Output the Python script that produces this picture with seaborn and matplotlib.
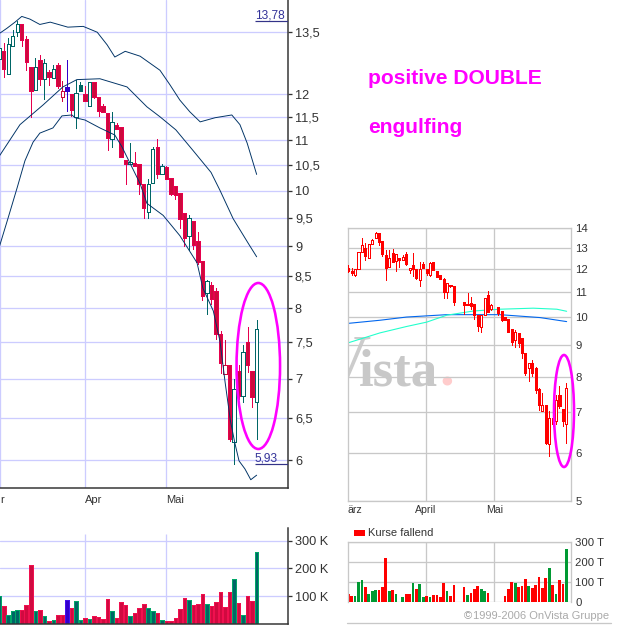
import numpy as np
import matplotlib
matplotlib.use("Agg")
import matplotlib.pyplot as plt
from matplotlib.patches import Ellipse, Rectangle
import seaborn as sns

# ---------- main candlestick chart ----------
days = np.arange(-1, 57)
m_open = [12.82,13.04,12.48,13.16,13.50,13.72,13.33,12.65,12.10,12.80,12.36,12.53,12.38,12.68,11.93,12.17,12.00,11.50,12.07,12.00,11.74,12.29,11.93,11.74,11.59,11.02,11.33,11.28,10.60,10.52,10.54,10.52,10.13,9.61,10.15,10.87,10.31,10.46,10.25,10.08,9.96,9.59,9.18,9.43,9.09,8.75,8.23,8.36,8.27,7.62,7.06,7.18,6.21,7.10,6.77,7.51,7.10,6.70]
m_high = [13.48,13.23,13.35,13.55,13.79,13.72,13.40,12.65,12.85,12.92,12.82,12.56,12.68,12.73,12.31,12.80,12.00,12.34,12.29,12.19,12.29,12.29,11.93,11.78,11.59,11.61,11.37,11.28,10.60,10.95,10.76,10.52,10.13,10.23,10.85,11.02,10.52,10.48,10.25,10.08,9.96,9.59,9.55,9.43,9.25,8.75,8.44,8.41,8.31,7.66,7.53,7.18,7.00,7.18,7.46,7.72,7.10,7.82]
m_low = [12.82,12.41,12.48,13.16,13.40,13.14,12.56,11.50,12.10,12.22,11.89,12.22,12.38,12.15,11.85,11.63,11.52,11.26,12.07,11.85,11.74,11.91,11.52,11.61,10.79,10.85,11.24,10.65,10.13,10.52,10.48,9.94,9.50,9.50,10.15,10.25,10.31,10.23,9.91,9.85,9.32,9.00,8.93,8.95,8.70,8.12,7.91,8.06,7.55,7.08,7.06,6.22,5.95,6.73,6.70,7.09,6.63,6.24]
m_close = [13.10,12.58,13.21,13.40,13.72,13.31,12.75,12.07,12.65,12.36,12.73,12.41,12.58,12.19,12.07,12.07,11.65,12.02,12.22,11.85,12.29,11.93,11.63,11.61,11.04,11.39,11.24,10.65,10.52,10.56,10.48,10.13,9.68,10.12,10.81,10.31,10.48,10.23,9.94,9.91,9.48,9.14,9.50,9.02,8.73,8.19,8.42,8.14,7.62,7.21,7.18,6.24,6.86,6.77,7.36,7.19,6.76,7.69]
m_kind = list("g" "rgggrrrgrgrgr" "rbrgg" "rgrrrrgrrrgrrrggr" "grrrrrgrrrgrrrrrgrgrrg")
solid_days = [14, 17]
band_up_x = [-0.8,0.7,2.5,4,5.8,8,10.3,14.2,17.6,20.7,22.9,24.6,26.9,30.2,34.6,36.8,39,41.2,43.5,46.8,50.5,52.3,53.9,56]
band_up = [13.48,13.60,13.76,13.91,13.84,13.70,13.76,13.63,13.65,13.50,13.18,12.88,13.02,12.90,12.56,12.22,11.87,11.61,11.39,11.48,11.54,11.33,10.94,10.31]
band_mid_x = [-1,3.6,8.7,13.1,16.2,21.3,27.3,31.7,34.6,38.1,41.9,45.9,47.9,50.8,54.2,56]
band_mid = [10.67,11.33,11.76,12.17,12.34,12.36,12.17,11.72,11.50,11.22,10.79,10.35,10.00,9.48,9.04,8.82]
band_low_x = [-1,1,3,4.7,6.5,8,10.9,12.9,15.1,15.8,18,21.3,24.6,26.2,30.2,31.7,35.3,39,42.8,44.1,46.4,47.9,49,50.2,51.2,52.1,53.4,54.7,56]
band_low = [8.98,9.50,10.06,10.58,10.96,11.15,11.26,11.52,11.54,11.48,11.43,11.26,11.11,10.86,10.13,9.76,9.54,9.18,8.72,8.31,7.96,7.51,6.96,6.46,6.19,5.99,5.90,5.78,5.83]
m_volume = [100,65,31,47,50,50,68,212,47,50,29,11,14,32,32,86,57,83,14,22,18,29,25,18,90,47,22,79,68,29,40,57,72,57,47,40,14,11,11,22,54,93,86,68,72,108,72,65,79,115,61,115,162,75,32,100,83,259]
m_yticks = [6,6.5,7,7.5,8,8.5,9,9.5,10,10.5,11,11.5,12,13.5]
m_ylabels = ["6","6,5","7","7,5","8","8,5","9","9,5","10","10,5","11","11,5","12","13,5"]
m_vticks = [100,200,300]
m_vlabels = ["100 K","200 K","300 K"]
m_months = [18,36]
m_month_labels = ["Apr","Mai"]
last_high, last_low = 13.78, 5.95

# ---------- small chart ----------
slots = np.arange(65)
n = np.nan
s_open = [12.05,11.92,11.72,12.00,12.80,13.00,12.50,13.20,13.49,13.73,13.33,12.63,12.08,12.76,12.35,12.52,12.41,12.68,11.94,12.16,12.00,11.50,12.24,12.00,11.75,12.32,11.92,11.75,11.57,11.02,11.30,11.27,n,n,10.58,10.47,10.55,10.50,10.10,9.63,10.10,10.87,10.32,n,10.40,10.24,10.00,9.93,9.57,9.18,9.43,9.25,8.74,8.26,8.42,8.26,7.62,7.03,7.18,6.20,6.85,6.77,7.47,7.07,6.70]
s_high = [12.16,12.05,12.00,12.80,13.46,13.25,13.20,13.45,13.78,13.73,13.33,12.90,12.90,12.95,12.70,12.52,12.65,12.78,12.05,12.76,12.00,12.30,12.33,12.00,12.33,12.32,11.92,11.75,11.60,11.38,11.30,11.27,n,n,10.58,10.95,10.80,10.50,10.10,10.10,10.77,11.05,10.52,n,10.40,10.24,10.00,9.93,9.57,9.54,9.43,9.25,8.74,8.42,8.50,8.30,7.67,7.53,7.18,7.02,7.15,7.45,7.71,7.07,7.82]
s_low = [11.85,11.75,11.68,12.00,12.80,12.42,12.50,13.20,13.49,13.15,12.60,11.50,12.08,12.30,11.90,12.10,12.41,12.20,11.80,11.68,11.55,11.24,12.05,11.75,11.70,11.94,11.63,11.57,10.75,10.75,11.20,10.48,n,n,10.13,10.47,10.30,9.95,9.50,9.45,10.10,10.20,10.28,n,10.08,9.85,9.89,9.46,9.00,8.94,8.94,8.58,8.06,7.86,8.03,7.53,7.06,7.03,6.20,5.93,6.65,6.69,7.10,6.63,6.22]
s_close = [11.90,11.82,12.00,12.80,13.11,12.60,13.20,13.40,13.73,13.28,12.68,12.05,12.52,12.33,12.70,12.41,12.57,12.21,12.05,12.00,11.60,12.00,12.05,11.82,12.28,11.94,11.63,11.57,11.02,11.38,11.24,10.60,n,n,10.47,10.50,10.44,10.10,9.67,10.10,10.77,10.20,10.48,n,10.16,9.89,9.89,9.46,9.11,9.46,9.07,8.74,8.11,8.42,8.11,7.61,7.20,7.18,6.22,6.85,6.69,7.32,7.17,6.77,7.67]
s_ma_x = [-0.4,9.3,17.1,28.9,44.5,56.3,64.1]
s_ma_blue = [9.77,9.89,10.01,10.10,10.10,9.99,9.84]
s_ma2_x = [-0.4,9.3,17.1,23,28.9,36.7,44.5,54.3,61.2,64.1]
s_ma_cyan = [9.07,9.43,9.66,9.82,10.08,10.24,10.31,10.35,10.31,10.23]
s_volume = [38,28,28,98,108,73,38,53,58,58,73,218,53,58,38,0,23,38,38,93,63,88,23,28,23,33,33,23,93,53,28,83,0,0,73,33,43,63,78,63,53,43,0,0,0,0,28,63,98,93,73,78,113,78,68,83,123,68,118,168,83,38,108,88,263]
s_kind = list("rrgggrgggrrrgrg" "r" "grrgrggrgrrrrgrr" "rr" "rgrrrggr" "rrrr" "rrrgrrrgrrrrrgrgrrg")
s_yticks = [5,6,7,8,9,10,11,12,13,14]
s_vticks = [0,100,200,300]
s_vlabels = ["0","100 T","200 T","300 T"]
s_months = [22.8,42.9]
s_month_labels = ["April","Mai"]

# ---------- style ----------
sns.set_theme(style="white")
plt.rcParams["font.family"] = ["Liberation Sans", "DejaVu Sans"]
plt.rcParams["text.color"] = "#333333"
PX = 0.72
W, H = 624, 625
DARK, GRID1, GRID2 = "#333333", "#ccccff", "#c8c8c8"
NAVY = "#003366"
RED, REDE, TEAL, TEALE, BLUE = "#cc0a3c", "#e6004d", "#006666", "#00a868", "#3300cc"

fig = plt.figure(figsize=(W / 100, H / 100), dpi=100, facecolor="white")


def make_axes(l, t, r, b):
    return fig.add_axes([l / W, 1 - b / H, (r - l) / W, (b - t) / H])


def candles(ax, x, o, h, l, c, faces, edges, width, zorder=3):
    o, h, l, c = map(lambda a: np.array(a, float), (o, h, l, c))
    ax.vlines(x, l, h, colors=edges, linewidth=PX, zorder=zorder, antialiased=False)
    ax.bar(x, np.abs(c - o), bottom=np.minimum(o, c), width=width, color=faces,
           edgecolor=edges, linewidth=PX, zorder=zorder + 0.1, antialiased=False)


# main price panel
ax = make_axes(0, 0, 288, 488)
ax.set_yscale("log")
fills, edges = [], []
for d, k, o, c in zip(days, m_kind, m_open, m_close):
    col = {"r": RED, "g": TEAL, "b": BLUE}[k]
    hollow = c > o and d not in solid_days
    fills.append("white" if hollow else col)
    edges.append(col if (hollow or k == "b") else (REDE if k == "r" else TEAL))
candles(ax, days, m_open, m_high, m_low, m_close, fills, edges, 0.76)
for bx_, by_ in ((band_up_x, band_up), (band_mid_x, band_mid), (band_low_x, band_low)):
    sns.lineplot(x=bx_, y=by_, color=NAVY, linewidth=PX * 0.95, estimator=None, sort=False,
                 ax=ax, zorder=5)
ax.hlines([last_high, last_low], 55.6, 62.94, color="#333388", linewidth=PX * 1.2, zorder=4)
ax.text(55.6, last_high, "13,78", color="#333399", fontsize=8.6, va="bottom", ha="left")
ax.text(55.6, last_low, "5,93", color="#333399", fontsize=8.6, va="bottom", ha="left")
ax.set_xlim(-0.82, 62.94)
ax.set_ylim(5.69, 14.35)
ax.set_yticks(m_yticks, m_ylabels)
ax.yaxis.set_minor_locator(matplotlib.ticker.NullLocator())
ax.yaxis.tick_right()
ax.set_xticks([-0.82] + m_months, ["r"] + m_month_labels, ha="left")
ax.grid(True, color=GRID1, linewidth=PX * 1.3)
ax.set_axisbelow(True)
ax.tick_params(axis="y", length=3, width=PX * 1.3, color=DARK, labelcolor=DARK, labelsize=9.2, pad=2)
ax.tick_params(axis="x", length=0, labelcolor=DARK, labelsize=8, pad=5)
for t in ax.get_yticklabels():
    t.set_ha("left")
for s in ("left", "top"):
    ax.spines[s].set_visible(False)
for s in ("right", "bottom"):
    ax.spines[s].set_color(DARK)
    ax.spines[s].set_linewidth(PX * 1.5)

# main volume panel
vx = make_axes(0, 528, 288, 624)
sns.barplot(x=days, y=m_volume, hue=m_kind, hue_order=["r", "g", "b"],
            palette={"r": "#d00a40", "g": TEAL, "b": BLUE}, native_scale=True, dodge=False,
            width=0.8, saturation=1, errorbar=None, legend=False, ax=vx)
for cont, ec in zip(vx.containers, ("#f0104f", TEALE, "#4411ee")):
    for p in cont:
        p.set_edgecolor(ec)
        p.set_linewidth(PX)
        p.set_antialiased(False)
vx.set_xlim(-0.82, 62.94)
vx.set_ylim(0, 345)
vx.set_yticks(m_vticks, m_vlabels)
vx.set_xticks([])
vx.set_xlabel("")
vx.set_ylabel("")
vx.yaxis.tick_right()
vx.grid(True, axis="y", color=GRID1, linewidth=PX * 1.3)
vx.vlines(m_months, 0, 322, color=GRID1, linewidth=PX * 1.3, zorder=0.6)
vx.set_axisbelow(True)
vx.tick_params(axis="y", length=3, width=PX * 1.3, color=DARK, labelcolor=DARK, labelsize=9.2, pad=2)
for t in vx.get_yticklabels():
    t.set_ha("left")
for s in ("left", "top"):
    vx.spines[s].set_visible(False)
for s in ("right", "bottom"):
    vx.spines[s].set_color(DARK)
    vx.spines[s].set_linewidth(PX * 1.5)

# small price panel
bx = make_axes(347.5, 228, 571, 501.3)
bx.set_yscale("log")
s_fills = ["white" if c > o else "#ff0000" for o, c in zip(s_open, s_close)]
candles(bx, slots, s_open, s_high, s_low, s_close, s_fills, "#ff0000", 0.6)
sns.lineplot(x=s_ma_x, y=s_ma_blue, color="#0066ee", linewidth=PX * 1.1, estimator=None, sort=False,
             ax=bx, zorder=2)
sns.lineplot(x=s_ma2_x, y=s_ma_cyan, color="#22ffcc", linewidth=PX * 1.1, estimator=None, sort=False,
             ax=bx, zorder=2)
bx.set_xlim(-0.235, 65.38)
bx.set_ylim(5, 14)
bx.set_yticks(s_yticks, [str(v) for v in s_yticks])
bx.yaxis.set_minor_locator(matplotlib.ticker.NullLocator())
bx.yaxis.tick_right()
bx.set_xticks(s_months, s_month_labels)
bx.grid(True, color=GRID2, linewidth=PX * 1.3)
bx.set_axisbelow(True)
bx.tick_params(axis="y", length=0, labelcolor=DARK, labelsize=8.2, pad=3)
bx.tick_params(axis="x", length=0, labelcolor=DARK, labelsize=7.6, pad=3)
for s in bx.spines.values():
    s.set_color(GRID2)
    s.set_linewidth(PX * 1.3)

# small volume panel
sv = make_axes(347.5, 541.7, 571, 601.7)
sns.barplot(x=slots, y=s_volume, hue=s_kind, hue_order=["r", "g"],
            palette={"r": "#ff0000", "g": "#009933"}, native_scale=True, dodge=False,
            width=0.8, saturation=1, errorbar=None, legend=False, linewidth=0, ax=sv)
for cont in sv.containers:
    for p in cont:
        p.set_edgecolor(p.get_facecolor())
        p.set_linewidth(0)
sv.set_xlim(-0.235, 65.38)
sv.set_ylim(0, 300)
sv.set_yticks(s_vticks, s_vlabels)
sv.set_xticks(s_months, [""] * len(s_months))
sv.set_xlabel("")
sv.set_ylabel("")
sv.yaxis.tick_right()
sv.grid(True, color=GRID2, linewidth=PX * 1.3)
sv.set_axisbelow(True)
sv.tick_params(axis="both", length=0, labelcolor=DARK, labelsize=8.2, pad=3)
sv.spines["bottom"].set_visible(False)
for s in ("left", "right", "top"):
    sv.spines[s].set_color(GRID2)
    sv.spines[s].set_linewidth(PX * 1.3)

# annotation overlay in figure pixels
ov = fig.add_axes([0, 0, 1, 1], zorder=20)
ov.set_xlim(0, W)
ov.set_ylim(H, 0)
ov.axis("off")
ov.patch.set_alpha(0)
MAG = "#ff00ff"
ov.add_patch(Ellipse((258.3, 366), 43.5, 166, fill=False, edgecolor=MAG, linewidth=2.6 * PX))
ov.add_patch(Ellipse((564, 411), 20, 112, fill=False, edgecolor=MAG, linewidth=2.6 * PX))
ov.text(368, 84, "positive DOUBLE", color=MAG, fontsize=15.1, fontweight="bold", va="baseline", ha="left")
ov.text(368, 133, "engulfing", color=MAG, fontsize=15.1, fontweight="bold", va="baseline", ha="left")
ov.add_patch(Rectangle((354, 530), 11, 5.5, color="#ff0000", linewidth=0))
ov.text(368.5, 533, "Kurse fallend", fontsize=8, color=DARK, va="center", ha="left")
ov.text(347.5, 510, "ärz", fontsize=7.6, color=DARK, va="center", ha="left")
ov.text(464, 616, "©", fontsize=8, color="#999999", va="center", ha="left")
ov.text(473, 616, "1999-2006 OnVista Gruppe", fontsize=8, color="#aaaaaa", va="center", ha="left")
ov.plot([347, 611], [623, 623], color=GRID2, linewidth=PX * 1.3, clip_on=False)

# watermark sits behind the grid of the small chart
wm1 = bx.text(370, 385, "V", transform=ov.transData, fontsize=54, family="Liberation Serif",
              color="#cccccc", va="baseline", ha="right", zorder=0.3, clip_on=True)
wm1.set_clip_path(bx.patch)
wm2 = bx.text(359, 385, "ista", transform=ov.transData, fontsize=38, fontweight="bold",
              family="Liberation Serif", color="#c8c8c8", va="baseline", ha="left", zorder=0.3)
wm3 = bx.text(439, 385, ".", transform=ov.transData, fontsize=42, fontweight="bold",
              family="Liberation Serif", color="#ffcccc", va="baseline", ha="left", zorder=0.3)

fig.savefig("out.png", dpi=100, facecolor="white")
